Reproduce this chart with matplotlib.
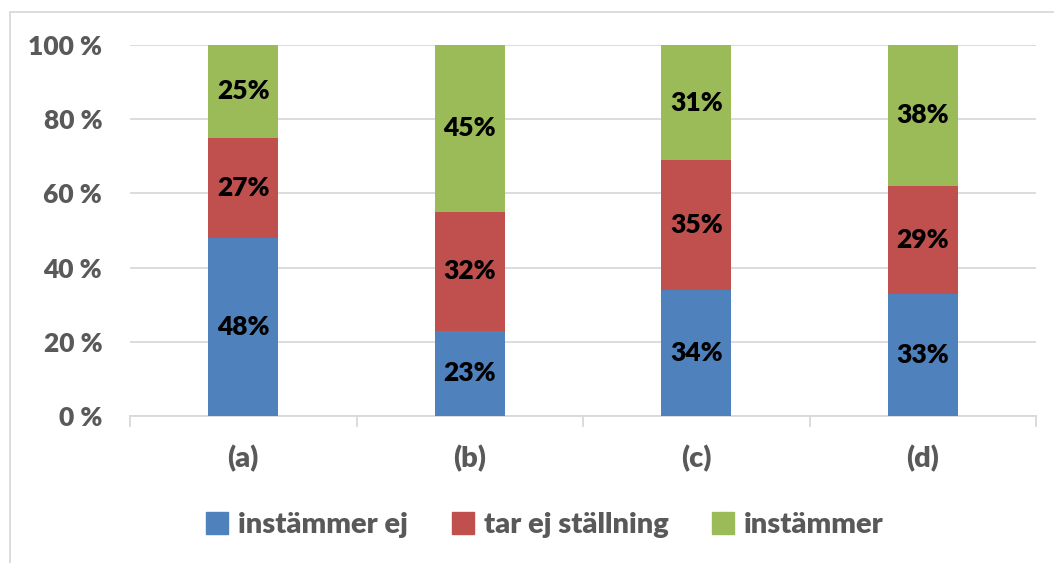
import matplotlib.pyplot as plt
from matplotlib.patches import Rectangle, Patch

categories = ['(a)', '(b)', '(c)', '(d)']
series_names = ['instämmer ej', 'tar ej ställning', 'instämmer']
instammer_ej = [48, 23, 34, 33]
tar_ej = [27, 32, 35, 29]
instammer = [25, 45, 31, 38]
yticks = [0, 20, 40, 60, 80, 100]

colors = ['#4F81BD', '#C0504D', '#9BBB59']
grid_col = '#D9D9D9'
text_col = '#595959'

plt.rcParams['font.family'] = ['Lato', 'DejaVu Sans']
plt.rcParams['font.weight'] = 'heavy'

fig = plt.figure(figsize=(10.54, 5.63), dpi=100)
W, H = 1054, 563

# chart frame (cropped at right and bottom)
fig.patches.append(Rectangle((10 / W, -0.1), 1.2, 1 - 12 / H + 0.1, transform=fig.transFigure,
                             fill=False, edgecolor=grid_col, linewidth=1.3, zorder=0))

ax = fig.add_axes([130 / W, 1 - 416 / H, 906 / W, 371 / H])
x = range(len(categories))
bottom = [0] * len(categories)
for vals, col in zip([instammer_ej, tar_ej, instammer], colors):
    bars = ax.bar(x, vals, bottom=bottom, width=0.31, color=col, zorder=3)
    for rect, v, b in zip(bars, vals, bottom):
        ax.text(rect.get_x() + rect.get_width() / 2, b + v / 2, f'{v}%',
                ha='center', va='center', fontsize=19, fontweight='heavy', color='black', zorder=4)
    bottom = [b + v for b, v in zip(bottom, vals)]

ax.set_xlim(-0.5, len(categories) - 0.5)
ax.set_ylim(0, 100)
ax.set_yticks(yticks)
ax.set_yticklabels([f'{t} %' for t in yticks], color=text_col, fontsize=19, fontweight='heavy')
ax.set_xticks(list(x))
ax.set_xticklabels(categories, color=text_col, fontsize=21, fontweight='heavy')
ax.tick_params(axis='y', length=0, pad=20)
ax.tick_params(axis='x', length=0, pad=21)
ax.yaxis.grid(True, color=grid_col, linewidth=1.3, zorder=0)
ax.set_axisbelow(True)
for s in ['top', 'right', 'left']:
    ax.spines[s].set_visible(False)
ax.spines['bottom'].set_color(grid_col)
ax.spines['bottom'].set_linewidth(1.3)
# category separator ticks
for b in [i - 0.5 for i in range(len(categories) + 1)]:
    ax.plot([b, b], [0, -2.7], color=grid_col, linewidth=1.3, clip_on=False, zorder=2)

handles = [Patch(color=c) for c in colors]
fig.legend(handles, series_names, loc='center', bbox_to_anchor=(545 / W, 1 - 525 / H),
           ncol=3, frameon=False, handlelength=0.75, handleheight=0.75,
           handletextpad=0.35, columnspacing=1.5, labelcolor=text_col,
           prop={'weight': 'heavy', 'size': 21})

fig.savefig('out.png', dpi=100)
